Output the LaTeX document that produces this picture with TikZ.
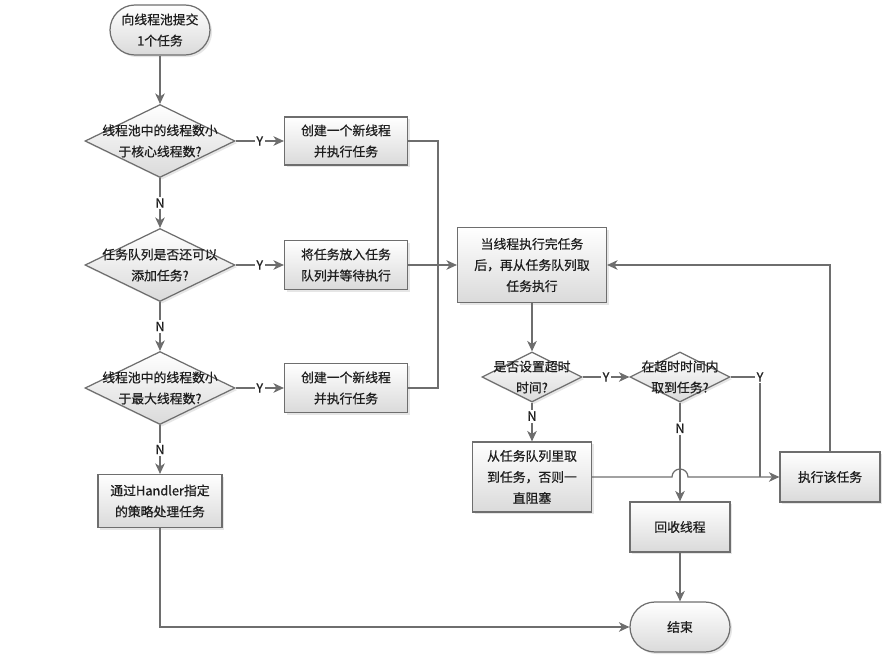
\documentclass[tikz,border=0pt]{standalone}
\usepackage{fontspec}
\setmainfont{Noto Sans CJK SC}[FakeBold=0.6]
\usetikzlibrary{shapes.geometric,arrows.meta,shadows,calc}
\definecolor{linegray}{HTML}{6E6E6E}
\definecolor{boxgray}{HTML}{DADADA}
\definecolor{txtgray}{HTML}{1E1E1E}
\tikzset{
  shade/.style={draw=linegray,line width=.7pt,top color=white,bottom color=boxgray,
    drop shadow={shadow xshift=1.2pt,shadow yshift=-1.2pt,opacity=.2}},
  box/.style={shade,rectangle,align=center,inner sep=1pt},
  term/.style={shade,rectangle,rounded corners=.5cm,minimum width=2cm,minimum height=1cm,align=center},
  dia/.style={shade,diamond,inner sep=0pt},
  arr/.style={draw=linegray,line width=.7pt,-{Stealth[length=6pt,width=5.5pt,inset=1.8pt]}},
  line/.style={draw=linegray,line width=.7pt},
  yn/.style={fill=white,inner sep=1pt,text=txtgray},
}
\begin{document}
\begin{tikzpicture}[x=0.02cm,y=-0.02cm,font=\fontsize{7.3}{12}\selectfont,text=txtgray]
\useasboundingbox (0,0) rectangle (893,659);
% left column
\node[term] (start) at (160,30) {向线程池提交\\1个任务};
\node[dia,minimum width=3cm,minimum height=1.46cm] (d1) at (160,141) {};
\node (d1t) at (d1) [align=center] {线程池中的线程数小\\于核心线程数?};
\node[box,minimum width=2.46cm,minimum height=.96cm] (b1) at (346,141) {创建一个新线程\\并执行任务};
\node[dia,minimum width=3cm,minimum height=1.46cm] (d2) at (160,265) {};
\node (d2t) at (d2) [align=center] {任务队列是否还可以\\添加任务?};
\node[box,minimum width=2.46cm,minimum height=.98cm] (b2) at (346,265) {将任务放入任务\\队列并等待执行};
\node[dia,minimum width=3cm,minimum height=1.46cm] (d3) at (160,388) {};
\node (d3t) at (d3) [align=center] {线程池中的线程数小\\于最大线程数?};
\node[box,minimum width=2.46cm,minimum height=.98cm] (b3) at (346,388) {创建一个新线程\\并执行任务};
\node[box,minimum width=2.48cm,minimum height=1.06cm] (b4) at (160,501) {通过Handler指定\\的策略处理任务};
\coordinate (bus) at (438,265);
% right part
\node[box,minimum width=2.98cm,minimum height=1.5cm] (m) at (532,265) {当线程执行完任务\\后，再从任务队列取\\任务执行};
\node[dia,minimum width=2cm,minimum height=1cm] (d4) at (532,377) {};
\node (d4t) at (d4) [align=center] {是否设置超时\\时间?};
\node[dia,minimum width=2cm,minimum height=1cm] (d5) at (680,377) {};
\node (d5t) at (d5) [align=center] {在超时时间内\\取到任务?};
\node[box,minimum width=2.38cm,minimum height=1.4cm] (b5) at (532,477) {从任务队列里取\\到任务，否则一\\直阻塞};
\node[box,minimum width=2cm,minimum height=1cm] (b6) at (680,527) {回收线程};
\node[box,minimum width=2cm,minimum height=1cm] (b7) at (830,477) {执行该任务};
\node[term] (end) at (680,627) {结束};
\coordinate (jn) at (760,477);
% connectors
\draw[arr] (start) -- (d1);
\draw[arr] (d1) -- node[yn]{Y} (b1);
\draw[arr] (d1) -- node[yn]{N} (d2);
\draw[arr] (d2) -- node[yn]{Y} (b2);
\draw[arr] (d2) -- node[yn]{N} (d3);
\draw[arr] (d3) -- node[yn]{Y} (b3);
\draw[arr] (d3) -- node[yn]{N} (b4);
\draw[arr] (b4) |- (end);
\draw[line] (b1) -| (bus) |- (b3);
\draw[arr] (b2) -- (m);
\draw[arr] (m) -- (d4);
\draw[arr] (d4) -- node[yn]{Y} (d5);
\draw[line] (d5) -| node[yn,pos=.5]{Y} (jn);
\draw[arr] (d4) -- node[yn,pos=.35]{N} (b5);
\draw[arr] (b5.east) -- ($(d5.south|-b5.east)+(-8,0)$) arc[start angle=180,end angle=0,radius=.16cm] -- (b7.west); %hop
\draw[arr] (d5) -- node[yn,pos=.26]{N} (b6);
\draw[arr] (b6) -- (end);
\draw[arr] (b7) |- (m);
\end{tikzpicture}
\end{document}
